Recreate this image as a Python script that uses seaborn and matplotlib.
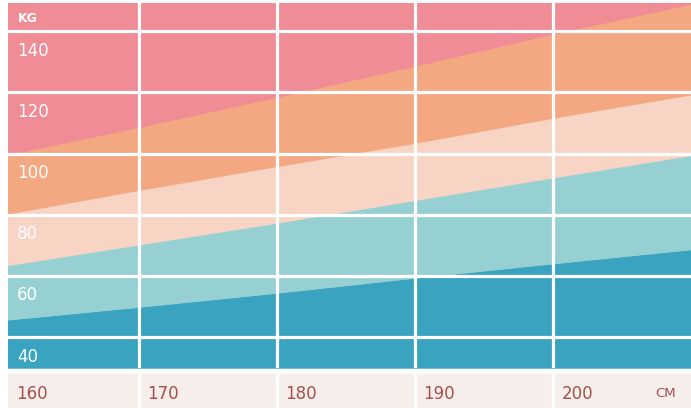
import matplotlib
matplotlib.use("Agg")
import matplotlib.pyplot as plt
import seaborn as sns
import numpy as np
import pandas as pd

# ---- data ----
heights = [160, 170, 180, 190, 200, 210]                      # cm
under_top = [55.5, 59.9, 64.5, 69.4, 74.1, 78.7]              # dark blue / light blue boundary (kg)
normal_top = [73.2, 80.3, 87.4, 94.8, 102.2, 109.5]           # light blue / peach boundary
over_top = [90.0, 98.1, 105.9, 113.5, 121.7, 129.3]           # peach / orange boundary
obese_top = [109.3, 118.7, 128.5, 138.7, 149.2, 158.9]        # orange / pink boundary
x_ticks = [160, 170, 180, 190, 200]
y_ticks = [40, 60, 80, 100, 120, 140]
x_grid = [170, 180, 190, 200]
y_grid = [50, 70, 90, 110, 130, 150]

colors = ["#3aa3c0", "#96d0d3", "#f8d4c4", "#f4a882", "#f08c96"]

sns.set_theme(style="white")
plt.rcParams['font.family'] = ['DejaVu Sans']

xmin, xmax = 160.5, 210.0
ymin, ymax = 40, 159.1

fig = plt.figure(figsize=(6.91, 4.08), dpi=100, facecolor="white")
ax = fig.add_axes([8/691, (408-367.7)/408, 683/691, (367.7-3.3)/408])
ax2 = fig.add_axes([8/691, 0, 683/691, (408-373.8)/408])

df = pd.DataFrame({"h": heights, "under": under_top, "normal": normal_top,
                   "over": over_top, "obese": obese_top})

h = np.array(heights, dtype=float)
layers = [np.full(len(h), ymin), df["under"].values, df["normal"].values,
          df["over"].values, df["obese"].values, np.full(len(h), ymax + 5)]
for i, c in enumerate(colors):
    ax.fill_between(h, layers[i], layers[i+1], color=c, lw=0.6, edgecolor=c, zorder=1)

# boundary lines through seaborn for crisp edges
for col, c in zip(["under", "normal", "over", "obese"], colors[1:]):
    sns.lineplot(data=df, x="h", y=col, ax=ax, color=c, lw=0.8, zorder=2)

for xv in x_grid:
    ax.axvline(xv, color="white", lw=2.3, zorder=3)
for yv in y_grid:
    ax.axhline(yv, color="white", lw=2.3, zorder=3)

ax.set_xlim(xmin, xmax)
ax.set_ylim(ymin, ymax)
ax.set_xlabel("")
ax.set_ylabel("")
ax.set_xticks([])
ax.set_yticks([])
for s in ax.spines.values():
    s.set_visible(False)

for yv in y_ticks:
    ax.text(xmin + 0.65, yv + 3.6, str(yv), color="white", fontsize=12,
            ha="left", va="center", zorder=4)
ax.text(xmin + 0.75, 154.2, "KG", color="white", fontsize=9, ha="left",
        va="center", zorder=4, fontweight="bold")

# bottom strip
ax2.set_facecolor("#f6eeea")
ax2.set_xlim(xmin, xmax)
ax2.set_ylim(0, 1)
for xv in x_grid:
    ax2.axvline(xv, color="white", lw=2.3)
ax2.set_xticks([])
ax2.set_yticks([])
for s in ax2.spines.values():
    s.set_visible(False)
for t in x_ticks:
    ax2.text(max(t, xmin) + 0.6, 0.4, str(t), color="#a4514d", fontsize=12,
             ha="left", va="center")
ax2.text(207.4, 0.43, "CM", color="#a4514d", fontsize=9.5, ha="left", va="center")

fig.savefig("out.png", dpi=100, facecolor="white")
